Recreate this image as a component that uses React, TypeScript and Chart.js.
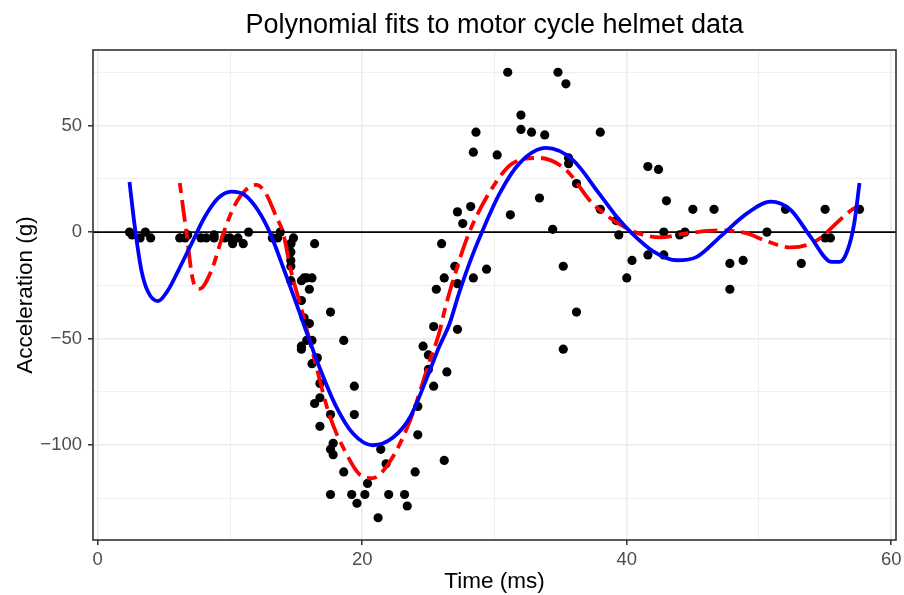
import React, { useEffect, useRef } from "react";
import { Chart, registerables } from "chart.js";

Chart.register(...registerables);

// ---- observed data (motorcycle helmet acceleration) ----
const timesMs: number[] = [
  2.4, 2.6, 3.2, 3.6, 4.0, 6.2, 6.6, 6.8, 7.8, 8.2, 8.8, 8.8, 9.6, 10.0, 10.2, 10.6, 11.0, 11.4,
  13.2, 13.6, 13.8, 14.6, 14.6, 14.6, 14.6, 14.6, 14.6, 14.8, 15.4, 15.4, 15.4, 15.4, 15.6, 15.6,
  15.8, 15.8, 16.0, 16.0, 16.2, 16.2, 16.2, 16.4, 16.4, 16.6, 16.8, 16.8, 16.8, 17.6, 17.6, 17.6,
  17.6, 17.8, 17.8, 18.6, 18.6, 19.2, 19.4, 19.4, 19.6, 20.2, 20.4, 21.2, 21.4, 21.8, 22.0, 23.2,
  23.4, 24.0, 24.2, 24.2, 24.6, 25.0, 25.0, 25.4, 25.4, 25.6, 26.0, 26.2, 26.2, 26.4, 27.0, 27.2,
  27.2, 27.2, 27.6, 28.2, 28.4, 28.4, 28.6, 29.4, 30.2, 31.0, 31.2, 32.0, 32.0, 32.8, 33.4, 33.8,
  34.4, 34.8, 35.2, 35.2, 35.4, 35.6, 35.6, 36.2, 36.2, 38.0, 38.0, 39.2, 39.4, 40.0, 40.4, 41.6,
  41.6, 42.4, 42.8, 42.8, 43.0, 44.0, 44.4, 45.0, 46.6, 47.8, 47.8, 48.8, 50.6, 52.0, 53.2, 55.0,
  55.0, 55.4, 57.6,
];
const accelG: number[] = [
  0.0, -1.3, -2.7, 0.0, -2.7, -2.7, -2.7, -1.3, -2.7, -2.7, -1.3, -2.7, -2.7, -2.7, -5.4, -2.7,
  -5.4, 0.0, -2.7, -2.7, 0.0, -13.3, -5.4, -5.4, -9.3, -16.0, -22.8, -2.7, -22.8, -32.1, -53.5,
  -54.9, -40.2, -21.5, -21.5, -50.8, -42.9, -26.8, -21.5, -50.8, -61.7, -5.4, -80.4, -59.0, -71.0,
  -91.1, -77.7, -37.5, -85.6, -123.1, -101.9, -99.1, -104.4, -112.5, -50.8, -123.1, -85.6, -72.3,
  -127.2, -123.1, -117.9, -134.0, -101.9, -108.7, -123.1, -123.1, -128.5, -112.5, -95.1, -81.8,
  -53.5, -64.4, -57.6, -72.3, -44.3, -26.8, -5.4, -107.1, -21.5, -65.6, -16.0, -45.6, -24.2, 9.5,
  4.0, 12.0, -21.5, 37.5, 46.9, -17.4, 36.2, 75.0, 8.1, 54.9, 48.2, 46.9, 16.0, 45.6, 1.3, 75.0,
  -16.0, -54.9, 69.6, 34.8, 32.1, -37.5, 22.8, 46.9, 10.7, 5.4, -1.3, -21.5, -13.3, 30.8, -10.7,
  29.4, 0.0, -10.7, 14.7, -1.3, 0.0, 10.7, 10.7, -26.8, -14.7, -13.3, 0.0, 10.7, -14.7, -2.7,
  10.7, -2.7, 10.7,
];

// ---- fitted curves ----
const redFitX: number[] = [
  6.2, 6.7, 7.2, 7.7, 8.6, 9.5, 10.3, 11.2, 12.0, 12.7, 13.5, 14.0, 14.6, 15.4, 16.4, 17.5, 18.8,
  19.8, 20.8, 22.1, 23.6, 25.1, 25.8, 26.3, 27.1, 28.1, 29.9, 31.4, 33.4, 35.4, 37.4, 39.4, 40.9,
  42.5, 44.5, 47.1, 49.1, 50.4, 52.4, 53.6, 54.7, 55.7, 57.0, 57.6,
];
const redFitY: number[] = [
  23, 0, -22.6, -26.6, -17.9, -0.6, 11.9, 19.8, 22.2, 18.2, 7.2, 0, -17.9, -36, -60, -85.5, -104,
  -113.7, -115.4, -107.5, -88.7, -60.4, -47.7, -35, -18, 0, 21.4, 32.4, 34.8, 29.2, 13.5, 4, -0.6,
  -2.5, -0.6, 0.8, -0.6, -3.8, -7.2, -6.1, -2.5, 3.3, 10.4, 12.5,
];
const blueFitX: number[] = [
  2.4, 2.8, 3.3, 3.8, 4.55, 5.3, 6.1, 7.1, 8.1, 9.1, 10.1, 11.1, 12.1, 13.0, 14.1, 15.1, 16.8,
  18.0, 19.3, 20.8, 22.3, 23.6, 25.1, 25.8, 26.6, 27.3, 28.1, 28.9, 30.4, 31.9, 33.9, 35.9, 37.9,
  39.4, 40.3, 42.0, 43.8, 45.3, 47.1, 49.1, 50.9, 52.4, 53.9, 55.5, 56.1, 56.7, 57.2, 57.6,
];
const blueFitY: number[] = [
  23.5, 2.5, -17.9, -28, -32.4, -27.4, -17.9, -5.3, 7.2, 15.9, 19, 17.5, 10.4, 0, -17.9, -35, -64,
  -81.5, -94.5, -100, -96.5, -87, -65, -54, -43, -29, -14.7, -2.2, 18.3, 32.4, 39.5, 34, 18.2,
  6, 0, -9, -13.2, -11.6, -2, 8.8, 14.3, 10.4, -2.2, -14, -14, -8.5, 4.1, 23,
];

// ---- axes ----
const xTickValues: number[] = [0, 10, 20, 30, 40, 50, 60];
const xLabeledTicks: number[] = [0, 20, 40, 60];
const yTickValues: number[] = [-125, -100, -75, -50, -25, 0, 25, 50, 75];
const yLabeledTicks: number[] = [-100, -50, 0, 50];
const xRange: [number, number] = [-0.36, 60.36];
const yRange: [number, number] = [-144.45, 85.45];
const refLineY = 0;
const chartTitle = "Polynomial fits to motor cycle helmet data";

const FONT = "'Liberation Sans', Arial, Helvetica, sans-serif";

const fmt = (v: number) => (v < 0 ? "\u2212" + Math.abs(v) : String(v));

const panelPlugin = {
  id: "panelDecor",
  beforeDatasetsDraw(chart: any) {
    const { ctx, chartArea, scales } = chart;
    const py = scales.y.getPixelForValue(refLineY);
    ctx.save();
    ctx.strokeStyle = "#000000";
    ctx.lineWidth = 1.6;
    ctx.beginPath();
    ctx.moveTo(chartArea.left, py);
    ctx.lineTo(chartArea.right, py);
    ctx.stroke();
    ctx.restore();
  },
  afterDraw(chart: any) {
    const { ctx, chartArea } = chart;
    ctx.save();
    ctx.strokeStyle = "#333333";
    ctx.lineWidth = 1.6;
    ctx.strokeRect(
      chartArea.left,
      chartArea.top,
      chartArea.right - chartArea.left,
      chartArea.bottom - chartArea.top
    );
    // title centred over the panel
    ctx.fillStyle = "#000000";
    ctx.font = `27px ${FONT}`;
    ctx.textAlign = "center";
    ctx.textBaseline = "alphabetic";
    ctx.fillText(chartTitle, (chartArea.left + chartArea.right) / 2, 33.3);
    ctx.restore();
  },
};

export default function App() {
  const canvasRef = useRef<HTMLCanvasElement | null>(null);

  useEffect(() => {
    if (!canvasRef.current) return;
    const points = timesMs.map((t, i) => ({ x: t, y: accelG[i] }));
    const red = redFitX.map((t, i) => ({ x: t, y: redFitY[i] }));
    const blue = blueFitX.map((t, i) => ({ x: t, y: blueFitY[i] }));

    const chart = new Chart(canvasRef.current, {
      type: "scatter",
      data: {
        datasets: [
          {
            label: "data",
            data: points,
            pointRadius: 4.6,
            pointBackgroundColor: "#000000",
            pointBorderWidth: 0,
            showLine: false,
            order: 3,
          },
          {
            label: "fit A",
            data: red,
            showLine: true,
            pointRadius: 0,
            borderColor: "#FF0000",
            borderWidth: 3.8,
            borderDash: [10, 7, 22, 7],
            cubicInterpolationMode: "monotone",
            order: 2,
          },
          {
            label: "fit B",
            data: blue,
            showLine: true,
            pointRadius: 0,
            borderColor: "#0000FF",
            borderWidth: 3.8,
            cubicInterpolationMode: "monotone",
            order: 1,
          },
        ],
      },
      options: {
        animation: false,
        responsive: false,
        maintainAspectRatio: false,
        layout: { padding: { left: 0, right: 8, top: 50, bottom: 0 } },
        plugins: {
          legend: { display: false },
          tooltip: { enabled: false },
          title: { display: false },
        },
        scales: {
          x: {
            type: "linear",
            min: xRange[0],
            max: xRange[1],
            afterBuildTicks: (s: any) => {
              s.ticks = xTickValues.map((v) => ({ value: v }));
            },
            afterFit: (s: any) => {
              s.height = 55;
              s.paddingLeft = 0;
              s.paddingRight = 0;
            },
            border: { display: false },
            grid: {
              color: "#EBEBEB",
              lineWidth: (c: any) => (xLabeledTicks.includes(c.tick?.value) ? 1.6 : 0.8),
              tickColor: (c: any) =>
                xLabeledTicks.includes(c.tick?.value) ? "#333333" : "rgba(0,0,0,0)",
              tickLength: 5,
              tickWidth: 1.5,
            },
            ticks: {
              autoSkip: false,
              maxRotation: 0,
              padding: 4,
              color: "#4D4D4D",
              font: { family: FONT, size: 18.5 },
              callback: (v: any) => (xLabeledTicks.includes(Number(v)) ? fmt(Number(v)) : ""),
            },
            title: {
              display: true,
              text: "Time (ms)",
              color: "#000000",
              font: { family: FONT, size: 22.5 },
              padding: { top: 0, bottom: 0 },
            },
          },
          y: {
            type: "linear",
            min: yRange[0],
            max: yRange[1],
            afterBuildTicks: (s: any) => {
              s.ticks = yTickValues.map((v) => ({ value: v }));
            },
            afterFit: (s: any) => {
              s.width = 93;
              s.paddingTop = 0;
              s.paddingBottom = 0;
            },
            border: { display: false },
            grid: {
              color: "#EBEBEB",
              lineWidth: (c: any) => (yLabeledTicks.includes(c.tick?.value) ? 1.6 : 0.8),
              tickColor: (c: any) =>
                yLabeledTicks.includes(c.tick?.value) ? "#333333" : "rgba(0,0,0,0)",
              tickLength: 5,
              tickWidth: 1.5,
            },
            ticks: {
              autoSkip: false,
              padding: 6,
              color: "#4D4D4D",
              font: { family: FONT, size: 18.5 },
              callback: (v: any) => (yLabeledTicks.includes(Number(v)) ? fmt(Number(v)) : ""),
            },
            title: {
              display: true,
              text: "Acceleration (g)",
              color: "#000000",
              font: { family: FONT, size: 22.5 },
              padding: { top: 12, bottom: 0 },
            },
          },
        },
      },
      plugins: [panelPlugin],
    } as any);

    return () => chart.destroy();
  }, []);

  return (
    <div style={{ position: "absolute", left: 0, top: 0, width: 904, height: 595, background: "#FFFFFF" }}>
      <canvas ref={canvasRef} width={904} height={595} style={{ display: "block" }} />
    </div>
  );
}
